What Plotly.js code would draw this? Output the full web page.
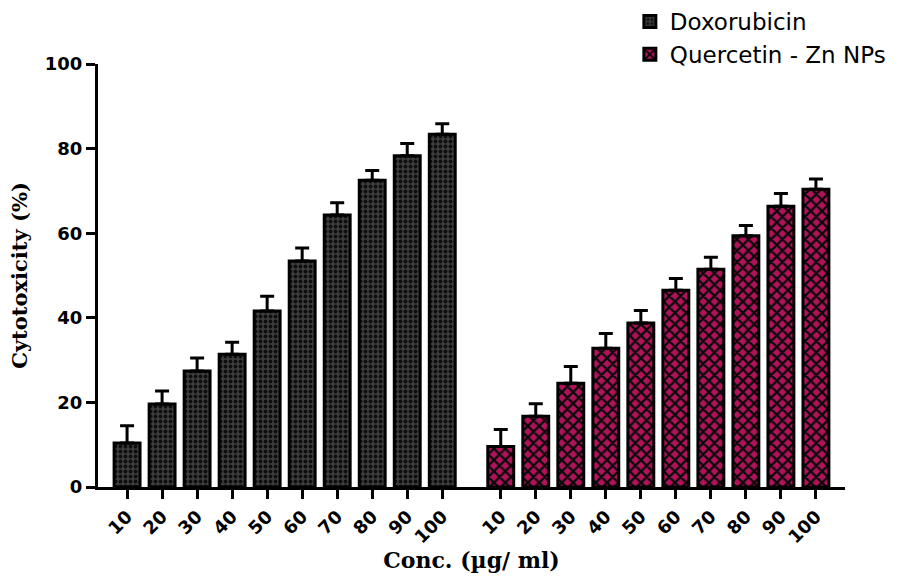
<!DOCTYPE html>
<html>
<head>
<meta charset="utf-8">
<script src="https://cdn.plot.ly/plotly-3.0.1.min.js"></script>
<style>html,body{margin:0;padding:0;background:#fff;}#chart{width:904px;height:576px;}</style>
</head>
<body>
<div id="chart"></div>
<script>
// Concentrations (µg/ml)
const concLabels = ["10","20","30","40","50","60","70","80","90","100"];
// Doxorubicin cytotoxicity (%) and upper SD
const doxValues = [10.4, 19.6, 27.4, 31.4, 41.6, 53.4, 64.3, 72.5, 78.3, 83.4];
const doxErrors = [4.1, 3.1, 3.1, 2.8, 3.5, 3.1, 2.9, 2.3, 2.9, 2.5];
// Quercetin - Zn NPs cytotoxicity (%) and upper SD
const querValues = [9.6, 16.7, 24.5, 32.8, 38.8, 46.5, 51.5, 59.4, 66.4, 70.4];
const querErrors = [4.0, 3.0, 4.0, 3.5, 2.9, 2.8, 2.8, 2.4, 3.0, 2.4];

const groupGap = 10.67;
const xDox = concLabels.map((_, i) => i);
const xQuer = concLabels.map((_, i) => i + groupGap);

const errStyle = (arr) => ({
  type: 'data', symmetric: false, array: arr, arrayminus: arr.map(() => 0),
  color: '#000', thickness: 3, width: 7, visible: true
});

const traces = [
  {
    type: 'bar', name: 'Doxorubicin', x: xDox, y: doxValues, width: 0.74,
    marker: {
      color: '#353535',
      line: {color: '#000', width: 3},
      pattern: {shape: '.', bgcolor: '#3d3d3d', fgcolor: '#0e0e0e', size: 5, solidity: 0.45}
    },
    error_y: errStyle(doxErrors)
  },
  {
    type: 'bar', name: 'Quercetin - Zn NPs', x: xQuer, y: querValues, width: 0.74,
    marker: {
      color: '#b0125a',
      line: {color: '#000', width: 3},
      pattern: {shape: 'x', bgcolor: '#b3125a', fgcolor: '#0a0a0a', size: 8, solidity: 0.5}
    },
    error_y: errStyle(querErrors)
  }
];

const tickFont = {family: 'DejaVu Sans, sans-serif', size: 18, color: '#000', weight: 'bold'};
const titleFontX = {family: 'DejaVu Serif, serif', size: 22, color: '#000', weight: 'bold'};
const titleFontY = {family: 'DejaVu Serif, serif', size: 21, color: '#000', weight: 'bold'};

const layout = {
  width: 904, height: 576,
  margin: {l: 98, r: 59, t: 64, b: 89, autoexpand: false},
  paper_bgcolor: '#fff', plot_bgcolor: '#fff',
  barmode: 'overlay',
  showlegend: true,
  legend: {
    xref: 'paper', yref: 'container',
    x: 0.712, xanchor: 'left', y: 1, yanchor: 'top',
    font: {family: 'DejaVu Sans, sans-serif', size: 23, color: '#000'},
    bgcolor: 'rgba(0,0,0,0)', tracegroupgap: 4
  },
  xaxis: {
    range: [-0.83, 9 + groupGap + 0.83],
    tickmode: 'array',
    tickvals: xDox.concat(xQuer),
    ticktext: concLabels.concat(concLabels),
    tickangle: -45,
    tickfont: tickFont,
    ticks: 'outside', ticklen: 9, tickwidth: 3, tickcolor: '#000',
    showline: true, linecolor: '#000', linewidth: 3,
    showgrid: false, zeroline: false,
    automargin: false,
    title: {text: 'Conc. (µg/ ml)', font: titleFontX, standoff: 6}
  },
  yaxis: {
    range: [0, 100],
    tickvals: [0, 20, 40, 60, 80, 100],
    tickfont: tickFont,
    ticks: 'outside', ticklen: 9, tickwidth: 3, tickcolor: '#000',
    showline: true, linecolor: '#000', linewidth: 3,
    showgrid: false, zeroline: false,
    automargin: false,
    title: {text: 'Cytotoxicity (%)', font: titleFontY, standoff: 12}
  }
};

Plotly.newPlot('chart', traces, layout, {displayModeBar: false, staticPlot: true});
</script>
</body>
</html>
